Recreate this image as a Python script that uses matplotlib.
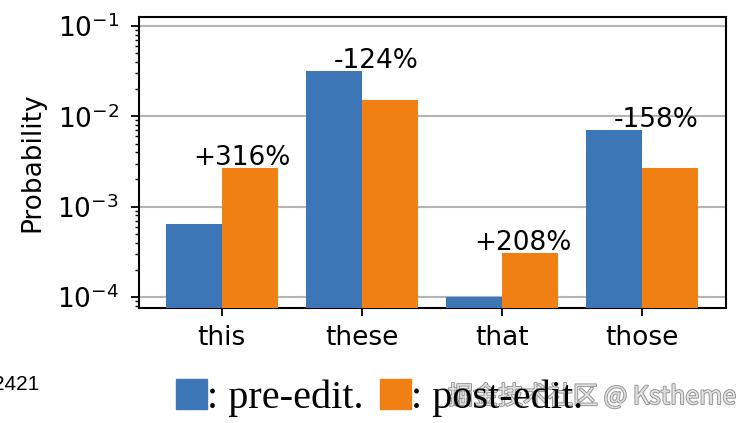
import numpy as np
import matplotlib
matplotlib.use("Agg")
import matplotlib.pyplot as plt
from matplotlib.patches import Patch
import matplotlib.patheffects as pe

# 數據
words = ["this", "these", "that", "those"]
pre_edit = [6.5e-4, 3.2e-2, 1.0e-4, 7.1e-3]
post_edit = [2.7e-3, 1.5e-2, 3.1e-4, 2.7e-3]
changes = ["+316%", "-124%", "+208%", "-158%"]

blue = "#3d76b6"
orange = "#f08014"

fig = plt.figure(figsize=(7.53, 4.23), dpi=100)
ax = fig.add_axes([0.1846, 0.2719, 0.7794, 0.6879])

x = np.arange(len(words))
w = 0.4
ax.bar(x - w, pre_edit, w, align="edge", color=blue, zorder=3)
ax.bar(x, post_edit, w, align="edge", color=orange, zorder=3)

ax.set_yscale("log")
ax.set_ylim(10 ** -4.122, 10 ** -0.9)
ax.set_xlim(-0.59, 3.6)
ax.set_xticks(x)
ax.set_xticklabels(words)
ax.set_yticks([1e-4, 1e-3, 1e-2, 1e-1])
ax.grid(axis="y", which="major", color="#b4b4b4", lw=1.5, zorder=0)
ax.tick_params(axis="both", which="major", labelsize=19, length=5.5, width=1.3)
ax.tick_params(axis="y", which="major", pad=9)
ax.tick_params(axis="x", which="major", pad=7)
ax.tick_params(axis="y", which="minor", length=3, width=1.0)
for s in ax.spines.values():
    s.set_linewidth(1.5)
ax.set_ylabel("Probability", fontsize=19)
ax.yaxis.set_label_coords(-0.159, 0.5)

# 百分比標註
for i, lab in enumerate(changes):
    top = max(pre_edit[i], post_edit[i])
    ax.text(x[i] - 0.2, top * 1.07, lab, ha="left", va="baseline", fontsize=19)

# 下方圖例
handles = [Patch(color=blue), Patch(color=orange)]
fig.legend(handles, [": pre-edit.", ": post-edit."], loc="center left",
           bbox_to_anchor=(176 / 753, 0.058), ncol=2, frameon=False,
           prop={"family": "Liberation Serif", "size": 29},
           handlelength=0.77, handleheight=0.77, handletextpad=0.0,
           columnspacing=0.4, borderpad=0.0, borderaxespad=0.0)

fig.text(39 / 753, 1 - 390 / 423, "2421", ha="right", va="baseline",
         fontsize=15, family="Liberation Sans")

wm = fig.text(448 / 753, 1 - 404 / 423, "掘金技术社区 @ Kstheme", ha="left",
              va="baseline", fontsize=18, color="#e2e2e2",
              family=["Noto Sans CJK SC", "DejaVu Sans"])
wm.set_path_effects([pe.withStroke(linewidth=1.3, foreground="#909090")])

plt.savefig("out.png", dpi=100)
